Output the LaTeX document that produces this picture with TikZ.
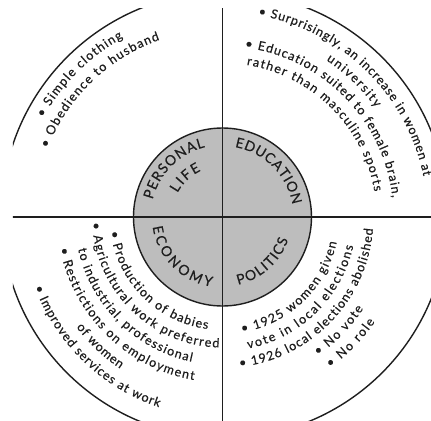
\documentclass[tikz,border=0pt]{standalone}
\usepackage{fontspec}
\setmainfont{Lato}
\newfontfamily\latoface{Lato}[FakeBold=0.4]
\usetikzlibrary{decorations.text}

\definecolor{ink}{HTML}{1E1E1E}
\definecolor{hub}{HTML}{BDBDBD}

\newcommand{\listfont}{\latoface\fontsize{12.6}{15}\selectfont}
\newcommand{\hubfont}{\latoface\fontsize{14}{16}\selectfont}

% text spread on an arc round the centre, from angle #3 to #4;
% #3 > #4 reads clockwise (tops outward), #3 < #4 anticlockwise (tops inward)
\newcommand{\arcline}[5][\listfont]{%
  \path[decorate, decoration={text along path, text align={fit to path}, text color=ink,
    text={|#1|#5}}]
    (#3:#2bp) arc[start angle=#3, end angle=#4, radius=#2bp];}

\begin{document}
\begin{tikzpicture}[x=1bp, y=1bp,
  rule/.style={draw=ink, line width=1.4bp}]
\useasboundingbox (-222.5,-204) rectangle (208.5,217);
\coordinate (c) at (0,0);
\coordinate (w) at (-215,0);
\coordinate (e) at (215,0);
\coordinate (n) at (0,215);
\coordinate (s) at (0,-215);

\begin{scope}
  \clip (-209.5,-204) rectangle (208.5,209);
  \draw[rule] (2,2) circle[radius=223];
  \draw[rule, fill=hub] (c) circle[radius=89];
  \draw[rule] (w) -- (e);
  \draw[rule] (n) -- (s);
\end{scope}

% hub labels
\arcline[\hubfont]{72}{166}{104}{PERSONAL}
\arcline[\hubfont]{51}{152}{115}{LIFE}
\arcline[\hubfont]{71}{80}{10}{EDUCATION}
\arcline[\hubfont]{70.5}{188}{261}{ECONOMY}
\arcline[\hubfont]{69.5}{283}{341}{POLITICS}

% personal life
\arcline{205}{151}{119}{• Simple clothing}
\arcline{188}{158.5}{109.5}{• Obedience to husband}

% education
\arcline{205}{80}{11.5}{• Surprisingly, an increase in women at}
\arcline{188}{56.5}{35.5}{university}
\arcline{171}{82.5}{6.5}{• Education suited to female brain,}
\arcline{154}{81}{9.5}{rather than masculine sports}

% economy
\arcline{113}{187.5}{262.5}{• Production of babies}
\arcline{130.5}{182.5}{268.5}{• Agricultural work preferred}
\arcline{148}{192.5}{258}{to industrial, professional}
\arcline{165.5}{191}{260}{• Restrictions on employment}
\arcline{183}{217}{236}{of women}
\arcline{200.5}{200.5}{251.5}{• Improved services at work}

% politics
\arcline{117}{279.5}{347.5}{• 1925 women given}
\arcline{134}{281}{347.5}{vote in local elections}
\arcline{151}{276.5}{355.5}{• 1926 local elections abolished}
\arcline{168}{304.5}{327}{• No vote}
\arcline{185}{305.5}{325.5}{• No role}
\end{tikzpicture}
\end{document}
